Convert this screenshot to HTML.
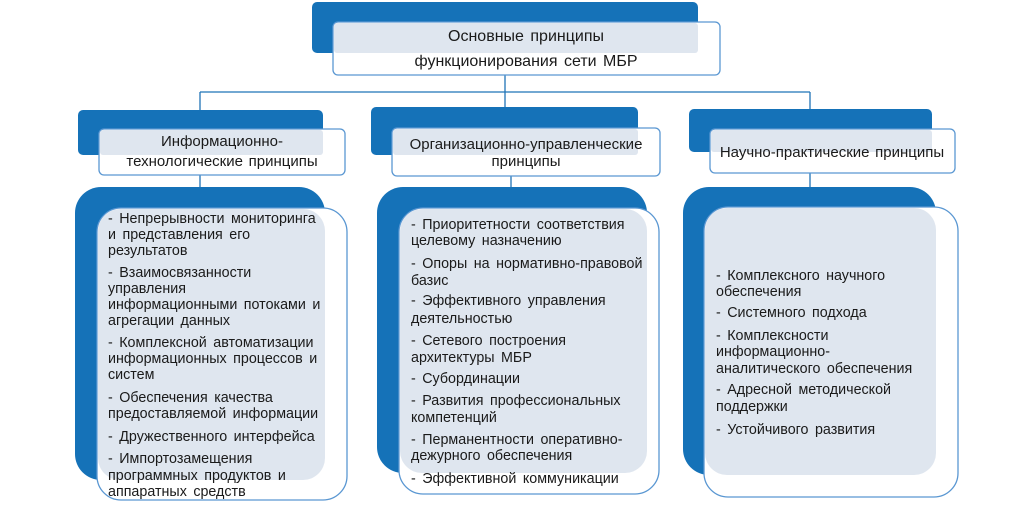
<!DOCTYPE html>
<html><head><meta charset="utf-8"><style>
html,body{margin:0;padding:0;background:#fff;width:1033px;height:511px;overflow:hidden}
text{font-family:"Liberation Sans",sans-serif;font-size:14.3px;fill:#1a1a1a;word-spacing:2.5px}
.h{font-size:15px;word-spacing:1.5px}
.t{font-size:16px;word-spacing:2px}
</style></head><body>
<svg width="1033" height="511" xmlns="http://www.w3.org/2000/svg">
<g stroke="#1f73b7" stroke-width="1.3" fill="none">
<line x1="505" y1="75" x2="505" y2="107"/>
<line x1="200" y1="92" x2="810" y2="92"/>
<line x1="200" y1="92" x2="200" y2="110"/>
<line x1="810" y1="92" x2="810" y2="109"/>
<line x1="200" y1="175" x2="200" y2="187"/>
<line x1="511" y1="176" x2="511" y2="187"/>
<line x1="810" y1="173" x2="810" y2="187"/>
</g>
<rect x="312" y="2" width="386" height="51" rx="5" fill="#1572b8"/>
<rect x="333" y="22" width="387" height="53" rx="5" fill="#fff" stroke="#5a97d2" stroke-width="1.3"/>
<rect x="334" y="23" width="364" height="30" rx="3" fill="#dfe6ef"/>
<text class="t" x="526" y="41" text-anchor="middle">Основные принципы</text>
<text class="t" x="526" y="66" text-anchor="middle">функционирования сети МБР</text>

<rect x="78" y="110" width="245" height="45" rx="5" fill="#1572b8"/>
<rect x="99" y="129" width="246" height="46" rx="5" fill="#fff" stroke="#5a97d2" stroke-width="1.3"/>
<rect x="100" y="130" width="223" height="25" rx="3" fill="#dfe6ef"/>
<text class="h" x="222" y="146" text-anchor="middle">Информационно-</text>
<text class="h" x="222" y="166" text-anchor="middle">технологические принципы</text>

<rect x="371" y="107" width="267" height="48" rx="5" fill="#1572b8"/>
<rect x="392" y="128" width="268" height="48" rx="5" fill="#fff" stroke="#5a97d2" stroke-width="1.3"/>
<rect x="393" y="129" width="245" height="26" rx="3" fill="#dfe6ef"/>
<text class="h" x="526" y="149" text-anchor="middle">Организационно-управленческие</text>
<text class="h" x="526" y="166" text-anchor="middle">принципы</text>

<rect x="689" y="109" width="243" height="43" rx="5" fill="#1572b8"/>
<rect x="710" y="129" width="245" height="44" rx="5" fill="#fff" stroke="#5a97d2" stroke-width="1.3"/>
<rect x="711" y="130" width="221" height="22" rx="3" fill="#dfe6ef"/>
<text class="h" x="832" y="157" text-anchor="middle">Научно-практические принципы</text>

<rect x="75" y="187" width="250" height="293" rx="26" fill="#1572b8"/>
<rect x="97" y="208" width="250" height="292" rx="24" fill="#fff" stroke="#5a97d2" stroke-width="1.3"/>
<rect x="98" y="209" width="227" height="271" rx="22" fill="#dfe6ef"/>

<rect x="377" y="187" width="270" height="286" rx="26" fill="#1572b8"/>
<rect x="399" y="208" width="260" height="286" rx="24" fill="#fff" stroke="#5a97d2" stroke-width="1.3"/>
<rect x="400" y="209" width="247" height="264" rx="22" fill="#dfe6ef"/>

<rect x="683" y="187" width="253" height="288" rx="26" fill="#1572b8"/>
<rect x="704" y="207" width="254" height="290" rx="24" fill="#fff" stroke="#5a97d2" stroke-width="1.3"/>
<rect x="705" y="208" width="231" height="267" rx="22" fill="#dfe6ef"/>

<g>
<text x="108" y="223">- Непрерывности мониторинга</text>
<text x="108" y="239">и представления его</text>
<text x="108" y="255">результатов</text>
<text x="108" y="277">- Взаимосвязанности</text>
<text x="108" y="293">управления</text>
<text x="108" y="309">информационными потоками и</text>
<text x="108" y="325">агрегации данных</text>
<text x="108" y="347">- Комплексной автоматизации</text>
<text x="108" y="363">информационных процессов и</text>
<text x="108" y="379">систем</text>
<text x="108" y="402">- Обеспечения качества</text>
<text x="108" y="418">предоставляемой информации</text>
<text x="108" y="441">- Дружественного интерфейса</text>
<text x="108" y="463">- Импортозамещения</text>
<text x="108" y="480">программных продуктов и</text>
<text x="108" y="496">аппаратных средств</text>
</g>
<g>
<text x="411" y="229">- Приоритетности соответствия</text>
<text x="411" y="245">целевому назначению</text>
<text x="411" y="268">- Опоры на нормативно-правовой</text>
<text x="411" y="285">базис</text>
<text x="411" y="305">- Эффективного управления</text>
<text x="411" y="323">деятельностью</text>
<text x="411" y="345">- Сетевого построения</text>
<text x="411" y="362">архитектуры МБР</text>
<text x="411" y="383">- Субординации</text>
<text x="411" y="405">- Развития профессиональных</text>
<text x="411" y="422">компетенций</text>
<text x="411" y="444">- Перманентности оперативно-</text>
<text x="411" y="460">дежурного обеспечения</text>
<text x="411" y="483">- Эффективной коммуникации</text>
</g>
<g>
<text x="716" y="280">- Комплексного научного</text>
<text x="716" y="296">обеспечения</text>
<text x="716" y="317">- Системного подхода</text>
<text x="716" y="340">- Комплексности</text>
<text x="716" y="356">информационно-</text>
<text x="716" y="373">аналитического обеспечения</text>
<text x="716" y="394">- Адресной методической</text>
<text x="716" y="411">поддержки</text>
<text x="716" y="434">- Устойчивого развития</text>
</g>
</svg>
</body></html>
